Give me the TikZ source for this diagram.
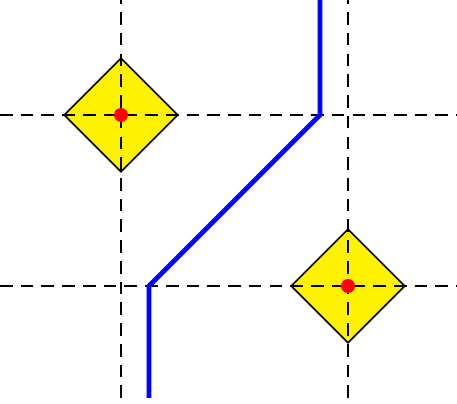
\documentclass[tikz,border=0pt]{standalone}
\usetikzlibrary{shapes.geometric}

\begin{document}
\begin{tikzpicture}[
      gridline/.style={line width=1.2pt, dash pattern=on 7.2pt off 4.6pt},
      tile/.style={diamond, draw, fill=yellow, line width=0.9pt,
        inner sep=0pt, minimum size=2.28cm},
      pin/.style={circle, fill=red, inner sep=0pt, minimum size=0.28cm},
      route/.style={blue, line width=2.8pt}]
    \useasboundingbox (0,0) rectangle (9.14,8.08);
    \node[tile] (tileA) at (2.42,5.78) {};
    \node[tile] (tileB) at (6.96,2.36) {};
    \draw[gridline] (2.42,0.12) -- (2.42,8.08);  \draw[gridline] (6.96,0.12) -- (6.96,8.08);
    \draw[gridline] (0,5.78) -- (9.14,5.78);  \draw[gridline] (0,2.36) -- (9.14,2.36);
    \node[pin] (pinA) at (tileA.center) {};
    \node[pin] (pinB) at (tileB.center) {};
    \coordinate (top) at (6.4,8.08);  \coordinate (bendA) at (6.4,5.78);
    \coordinate (bendB) at (2.98,2.36);  \coordinate (bottom) at (2.98,0.12);
    \draw[route] (top) -- (bendA) -- (bendB) -- (bottom);
  \end{tikzpicture}
\end{document}
